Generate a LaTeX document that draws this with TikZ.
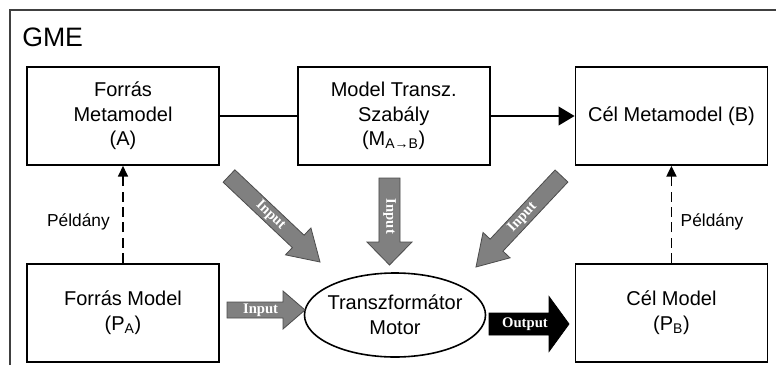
\documentclass[tikz,border=0pt]{standalone}
\usepackage{fontspec}
\setmainfont{Liberation Sans}
\newfontfamily\arrowfont{Liberation Serif}
\usetikzlibrary{positioning,calc,shapes.geometric,arrows.meta}

% broad block arrow: [style]{tail}{tip}{half shaft}{half head}{head length}{text}{text angle}
\newcommand{\fatarrow}[8][]{%
  \coordinate (hb) at ($(#3)!#6!(#2)$);
  \draw[#1] ($(#2)!#4!90:(#3)$) -- ($(hb)!#4!90:(#3)$) -- ($(hb)!#5!90:(#3)$) -- (#3)
    -- ($(hb)!#5!-90:(#3)$) -- ($(hb)!#4!-90:(#3)$) -- ($(#2)!#4!-90:(#3)$) -- cycle;
  \node[intext, rotate=#8] at ($(#2)!0.6!(hb)$) {#7};
}

\begin{document}
\begin{tikzpicture}[%
    x=0.75pt, y=-0.75pt,                 % one unit is one pixel of the reference
    node distance=72.75pt and 57.75pt,   % box spacing
    >={Triangle[length=12pt,width=14pt]},
    ]
\tikzset{
  box/.style={draw, line width=1.3pt, minimum width=144pt, minimum height=73.5pt,
    inner sep=0pt, align=center, font=\fontsize{15}{18.5}\selectfont},
  motor/.style={draw, ellipse, line width=1.2pt, minimum width=135.75pt, minimum height=63pt},
  inst/.style={line width=1.2pt, dash pattern=on 7.5pt off 4pt,
    -{Triangle[length=8pt,width=7.5pt]}},
  lbl/.style={font=\fontsize{13}{15}\selectfont},
  fat/.style={fill=black!50, draw=black!70, line width=0.6pt},
  fatout/.style={fill=black, draw=black, line width=0.6pt},
  intext/.style={text=white, inner sep=0pt, font=\arrowfont\bfseries\fontsize{11}{13}\selectfont},
}

\useasboundingbox (0,0) rectangle (776,365);
\draw[line width=1.1pt, black!75] (10,365) -- (10,10) -- (776,10);

\node[anchor=west, inner sep=0pt, font=\fontsize{20}{24}\selectfont] (title) at (22,37.5) {GME};

\node[box] (fmeta) at (123,116) {Forrás\\Metamodel\\(A)};
\node[box, right=57.75pt of fmeta] (rule) {Model Transz.\\Szabály\\(M\textsubscript{A→B})};
\node[box, right=63pt of rule] (cmeta) {Cél Metamodel (B)};

\node[box, below=of fmeta] (fmodel) {Forrás Model\\(P\textsubscript{A})};
\node[box, below=of cmeta] (cmodel) {Cél Model\\(P\textsubscript{B})};

\node[motor] (motor) at (395,315) {};
\node[align=center, font=\fontsize{15}{18.5}\selectfont] (motortext) at (motor.center) {Transzformátor\\Motor};

% connect
\draw[line width=1.4pt] (fmeta) -- (rule);
\draw[line width=1.4pt, ->] (rule) -- (cmeta);
\draw[inst] (fmodel) -- node[lbl, pos=0.42, left=6pt] {Példány} (fmeta);
\draw[inst] (cmodel) -- node[lbl, pos=0.42, right=3pt] {Példány} (cmeta);

% block arrows into and out of the motor
\coordinate (t1) at (229,176);   \coordinate (h1) at (320,262);
\coordinate (t2) at (389.5,178); \coordinate (h2) at (389.5,265);
\coordinate (t3) at (561.5,176); \coordinate (h3) at (476,267);
\coordinate (t4) at (227,310);   \coordinate (h4) at (305,310);
\coordinate (t5) at (489,324);   \coordinate (h5) at (569,324);

\fatarrow[fat]{t1}{h1}{6.4pt}{13.9pt}{22.5pt}{Input}{-43.4}
\fatarrow[fat]{t2}{h2}{7.9pt}{16.9pt}{17.25pt}{Input}{-90}
\fatarrow[fat]{t3}{h3}{6.6pt}{13.9pt}{22.5pt}{Input}{46.8}
\fatarrow[fat]{t4}{h4}{6pt}{14.25pt}{16.5pt}{Input}{0}
\fatarrow[fatout]{t5}{h5}{8.25pt}{20.6pt}{15pt}{Output}{0}

\end{tikzpicture}
\end{document}
